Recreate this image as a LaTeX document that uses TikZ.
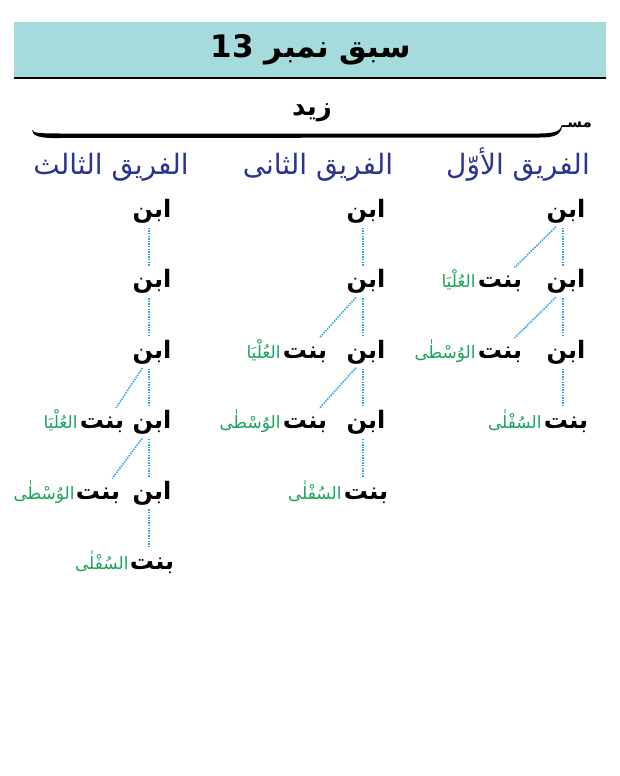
\documentclass[tikz,border=0pt]{standalone}
\usepackage{fontspec}
\TeXXeTstate=1
\newfontfamily\arabicfont[Script=Arabic]{DejaVu Sans}
\usetikzlibrary{positioning}
\definecolor{bandcyan}{HTML}{A6DBDE}
\definecolor{groupblue}{HTML}{2B3590}
\definecolor{taggreen}{HTML}{1AA45A}
\definecolor{linkblue}{HTML}{2AA8DF}
\newcommand{\urdu}[1]{\beginR #1\endR}

\begin{document}
\begin{tikzpicture}[x=1pt,y=-1pt,node distance=45pt,
    word/.style={font=\arabicfont\bfseries\fontsize{24}{28}\selectfont, text height=18pt, text depth=7pt, inner sep=0pt},
    tag/.style={font=\arabicfont\fontsize{17}{20}\selectfont, text=taggreen, text height=18pt, text depth=7pt, inner sep=0pt},
    group/.style={font=\arabicfont\fontsize{28}{32}\selectfont, text=groupblue, inner sep=0pt, anchor=base},
    link/.style={linkblue, line width=1.6pt, dash pattern=on 1.5pt off 1.1pt, shorten <=3pt, shorten >=3pt}]
    \useasboundingbox (0,0) rectangle (620,776);
    \fill[white] (0,0) rectangle (620,776);

    % title band
    \fill[bandcyan] (14,22) rectangle (606,78);
    \draw[line width=1.4pt] (14,78) -- (606,78);
    \node [font=\arabicfont\bfseries\fontsize{31}{35}\selectfont] (title) at (311,50) {\urdu{سبق نمبر \beginL13\endL}};

    % zaid and the stroke under it
    \node [font=\arabicfont\bfseries\fontsize{26}{30}\selectfont] (zaid) at (312,113) {\urdu{زید}};
    \node [font=\arabicfont\bfseries\fontsize{15}{17}\selectfont, anchor=east, inner sep=0pt] (mark) at (592,125) {\urdu{مسـ}};
    \fill (32,130) .. controls (33,133) and (40,133.5) .. (60,133.5) -- (540,133.5)
        .. controls (554,133.5) and (561,131) .. (mark.west) -- ([yshift=-1.5pt]mark.west)
        .. controls (561,135) and (554,137.5) .. (540,137.5) -- (60,138)
        .. controls (40,138.5) and (32,136) .. (32,130) -- cycle;

    % group headings
    \node [group] (g1) at (518,174) {\urdu{الفریق الأوّل}};
    \node [group] (g2) at (318,174) {\urdu{الفریق الثانی}};
    \node [group] (g3) at (111,174) {\urdu{الفریق الثالث}};

    % first group
    \node [word] (c1a1) at (566,212) {\urdu{ابن}};
    \node [word] [below=of c1a1] (c1a2) {\urdu{ابن}};
    \node [word] [below=of c1a2] (c1a3) {\urdu{ابن}};
    \node [word] [below=of c1a3] (c1b4) {\urdu{بنت}};
    \node [word] [left=24pt of c1a2] (c1b2) {\urdu{بنت}};
    \node [tag] [left=2pt of c1b2] (c1t2) {\urdu{العُلْیَا}};
    \node [word] [left=24pt of c1a3] (c1b3) {\urdu{بنت}};
    \node [tag] [left=2pt of c1b3] (c1t3) {\urdu{الوُسْطٰی}};
    \node [tag] [left=2pt of c1b4] (c1t4) {\urdu{السُفْلٰی}};

    % second group
    \node [word] (c2a1) at (366,212) {\urdu{ابن}};
    \node [word] [below=of c2a1] (c2a2) {\urdu{ابن}};
    \node [word] [below=of c2a2] (c2a3) {\urdu{ابن}};
    \node [word] [below=of c2a3] (c2a4) {\urdu{ابن}};
    \node [word] [below=of c2a4] (c2b5) {\urdu{بنت}};
    \node [word] [left=19pt of c2a3] (c2b3) {\urdu{بنت}};
    \node [tag] [left=2pt of c2b3] (c2t3) {\urdu{العُلْیَا}};
    \node [word] [left=19pt of c2a4] (c2b4) {\urdu{بنت}};
    \node [tag] [left=2pt of c2b4] (c2t4) {\urdu{الوُسْطٰی}};
    \node [tag] [left=2pt of c2b5] (c2t5) {\urdu{السُفْلٰی}};

    % third group
    \node [word] (c3a1) at (152,212) {\urdu{ابن}};
    \node [word] [below=of c3a1] (c3a2) {\urdu{ابن}};
    \node [word] [below=of c3a2] (c3a3) {\urdu{ابن}};
    \node [word] [below=of c3a3] (c3a4) {\urdu{ابن}};
    \node [word] [below=of c3a4] (c3a5) {\urdu{ابن}};
    \node [word] [below=of c3a5] (c3b6) {\urdu{بنت}};
    \node [word] [left=8pt of c3a4] (c3b4) {\urdu{بنت}};
    \node [tag] [left=2pt of c3b4] (c3t4) {\urdu{العُلْیَا}};
    \node [word] [left=12pt of c3a5] (c3b5) {\urdu{بنت}};
    \node [tag] [left=1pt of c3b5] (c3t5) {\urdu{الوُسْطٰی}};
    \node [tag] [left=1pt of c3b6] (c3t6) {\urdu{السُفْلٰی}};

    \path[link]
    ([xshift=-3pt]c1a1.south) edge ([xshift=-3pt]c1a2.north)
    ([xshift=-3pt]c1a2.south) edge ([xshift=-3pt]c1a3.north)
    ([xshift=-3pt]c1a3.south) edge ([xshift=-3pt]c1b4.north)
    ([xshift=-8pt]c1a1.south) edge ([xshift=-10pt]c1b2.north east)
    ([xshift=-8pt]c1a2.south) edge ([xshift=-10pt]c1b3.north east)
    ([xshift=-3pt]c2a1.south) edge ([xshift=-3pt]c2a2.north)
    ([xshift=-3pt]c2a2.south) edge ([xshift=-3pt]c2a3.north)
    ([xshift=-3pt]c2a3.south) edge ([xshift=-3pt]c2a4.north)
    ([xshift=-3pt]c2a4.south) edge ([xshift=-3pt]c2b5.north)
    ([xshift=-8pt]c2a2.south) edge ([xshift=-10pt]c2b3.north east)
    ([xshift=-8pt]c2a3.south) edge ([xshift=-10pt]c2b4.north east)
    ([xshift=-3pt]c3a1.south) edge ([xshift=-3pt]c3a2.north)
    ([xshift=-3pt]c3a2.south) edge ([xshift=-3pt]c3a3.north)
    ([xshift=-3pt]c3a3.south) edge ([xshift=-3pt]c3a4.north)
    ([xshift=-3pt]c3a4.south) edge ([xshift=-3pt]c3a5.north)
    ([xshift=-3pt]c3a5.south) edge ([xshift=-3pt]c3b6.north)
    ([xshift=-8pt]c3a3.south) edge ([xshift=-10pt]c3b4.north east)
    ([xshift=-8pt]c3a4.south) edge ([xshift=-10pt]c3b5.north east);
\end{tikzpicture}
\end{document}
